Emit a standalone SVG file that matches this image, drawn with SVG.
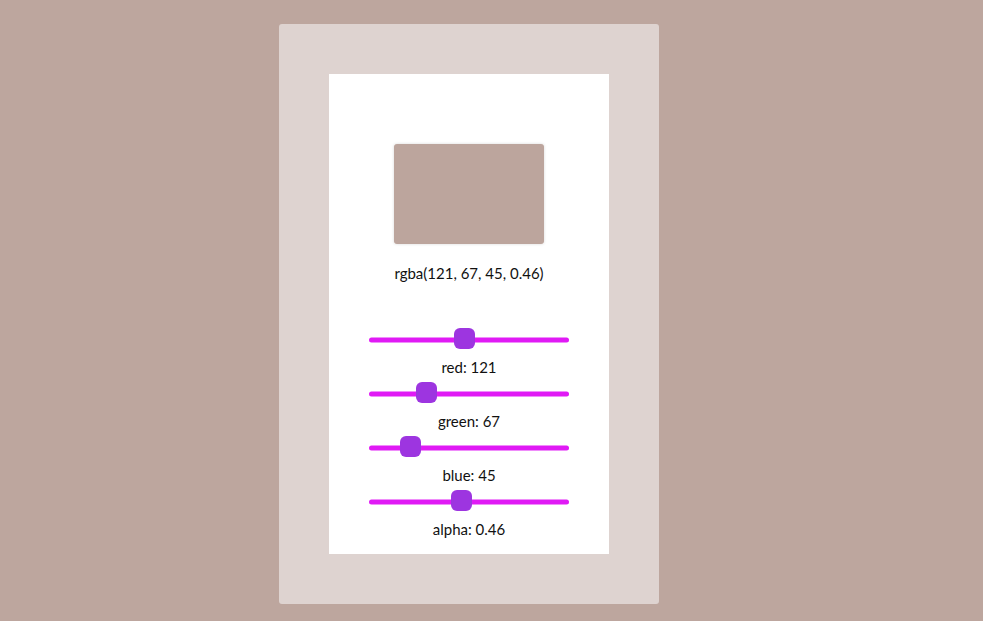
<svg xmlns="http://www.w3.org/2000/svg" width="983" height="621" viewBox="0 0 983 621">
<defs>
<style>
.track{fill:#e01af5}
.thumb{fill:#9d35e0}
.lbl{font-family:"Lato","Open Sans","Liberation Sans",sans-serif;font-size:15px;fill:#111;text-anchor:middle}
</style>
<filter id="sh" x="-10%" y="-10%" width="120%" height="120%">
<feDropShadow dx="0" dy="0" stdDeviation="1.5" flood-color="#000" flood-opacity="0.15"/>
</filter>
</defs>
<rect x="0" y="0" width="983" height="621" fill="#bda69e"/>
<g id="panel">
<rect x="279" y="24" width="380" height="580" rx="3" fill="#ded3d0"/>
</g>
<g id="card">
<rect x="329" y="74" width="280" height="480" fill="#ffffff"/>
</g>
<g id="swatch">
<rect x="394" y="144" width="150" height="100" rx="3" fill="#bca59d" filter="url(#sh)"/>
<text class="lbl" x="469" y="279">rgba(121, 67, 45, 0.46)</text>
</g>
<g id="slider-red">
<rect class="track" x="369" y="337.5" width="200" height="5" rx="2.5"/>
<rect class="thumb" x="454" y="328" width="21" height="21" rx="6"/>
<text class="lbl" x="469" y="373">red: 121</text>
</g>
<g id="slider-green">
<rect class="track" x="369" y="391.5" width="200" height="5" rx="2.5"/>
<rect class="thumb" x="416" y="382" width="21" height="21" rx="6"/>
<text class="lbl" x="469" y="427">green: 67</text>
</g>
<g id="slider-blue">
<rect class="track" x="369" y="445.5" width="200" height="5" rx="2.5"/>
<rect class="thumb" x="400" y="436" width="21" height="21" rx="6"/>
<text class="lbl" x="469" y="481">blue: 45</text>
</g>
<g id="slider-alpha">
<rect class="track" x="369" y="499.5" width="200" height="5" rx="2.5"/>
<rect class="thumb" x="451" y="490" width="21" height="21" rx="6"/>
<text class="lbl" x="469" y="535">alpha: 0.46</text>
</g>
<g id="connectors"></g>
</svg>
